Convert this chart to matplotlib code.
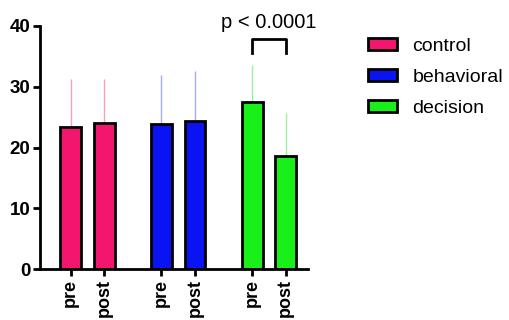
import numpy as np
import matplotlib.pyplot as plt
from matplotlib.patches import Patch

plt.rcParams['font.family'] = ['Liberation Sans', 'DejaVu Sans']

groups = ['control', 'behavioral', 'decision']
tick_labels = ['pre', 'post', 'pre', 'post', 'pre', 'post']
means = [23.4, 24.0, 23.8, 24.3, 27.5, 18.6]
upper_err = [7.9, 7.3, 8.2, 8.3, 6.0, 7.0]
colors = ['#f2166f', '#0a14f2', '#19f019']
err_colors = ['#f7a0bf', '#a8acf5', '#9ef09e']
p_text = 'p < 0.0001'

positions = np.array([0, 1, 2.7, 3.7, 5.4, 6.4])

fig = plt.figure(figsize=(5.09, 3.2), dpi=100)
ax = fig.add_axes([40 / 509, 51 / 320, 268 / 509, 243 / 320])

for i, (x, m, e) in enumerate(zip(positions, means, upper_err)):
    g = i // 2
    ax.errorbar(x, m, yerr=[[0], [e]], color=err_colors[g], lw=1, capsize=0, zorder=1)
    ax.bar(x, m, width=0.62, color=colors[g], edgecolor='black', linewidth=2, zorder=2)

# significance bracket between decision pre and post
ax.plot([positions[4], positions[4], positions[5], positions[5]], [35.5, 37.8, 37.8, 35.5],
        color='black', lw=2, clip_on=False)
ax.text((positions[4] + positions[5]) / 2, 39.0, p_text, ha='center', va='bottom',
        fontsize=14.5, clip_on=False)

ax.set_xlim(-0.91, 7.06)
ax.set_ylim(0, 40)
ax.set_yticks([0, 10, 20, 30, 40])
ax.set_xticks(positions)
ax.set_xticklabels(tick_labels, rotation=90, fontweight='bold', fontsize=13)
for lab in ax.get_yticklabels():
    lab.set_fontweight('bold')
    lab.set_fontsize(13.5)

for s in ['top', 'right']:
    ax.spines[s].set_visible(False)
for s in ['left', 'bottom']:
    ax.spines[s].set_linewidth(2)
ax.tick_params(width=2, length=5, pad=2)

handles = [Patch(facecolor=c, edgecolor='black', linewidth=2) for c in colors]
fig.legend(handles, groups, loc='upper left', bbox_to_anchor=(360 / 509, 1 - 30 / 320),
           frameon=False, fontsize=14, handlelength=1.5, handleheight=0.6,
           labelspacing=0.72, handletextpad=0.8, borderaxespad=0)

fig.savefig('out.png', dpi=100)
